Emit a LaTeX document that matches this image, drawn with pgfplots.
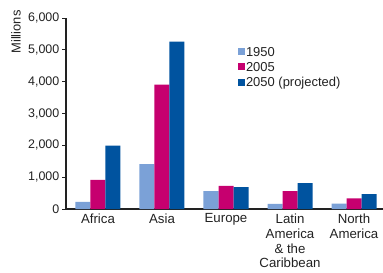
\documentclass[border=0pt]{standalone}
\usepackage{fontspec}
\setmainfont{Liberation Sans}
\usepackage{pgfplots}
\pgfplotsset{compat=1.18}
\definecolor{cA}{HTML}{7BA1D7}
\definecolor{cB}{HTML}{C6006F}
\definecolor{cC}{HTML}{00539F}
\definecolor{txt}{HTML}{222222}
\begin{document}
\begin{tikzpicture}
\begin{axis}[
  scale only axis,
  width=316.8bp, height=190.8bp,
  xmin=-0.5, xmax=4.45,
  ymin=0, ymax=6000,
  clip=false,
  axis lines=left,
  axis line style={-, line width=1.3pt, color=txt},
  ybar=0pt, bar width=15bp,
  xtick={0,1,2,3,4},
  xticklabels={Africa, Asia, Europe, {Latin\\America\\\& the\\Caribbean}, {North\\America}},
  xtick style={draw=none},
  minor xtick={-0.5,0.5,1.5,2.5,3.5},
  minor x tick style={line width=1.2pt, color=txt},
  minor tick length=4bp,
  ytick={0,1000,...,6000},
  ytick style={line width=1pt, color=txt},
  major tick length=3.5bp,
  tick align=outside,
  tick pos=left,
  /pgf/number format/1000 sep={,},
  /pgf/number format/assume math mode=true,
  yticklabel style={font=\fontsize{12.5}{14}\selectfont, color=txt, inner sep=1bp, xshift=-2bp},
  xticklabel style={font=\fontsize{13.3}{15}\selectfont, color=txt, align=center, yshift=2.5bp},
  legend style={at={(rel axis cs:0.533,0.865)}, anchor=north west, draw=none, fill=none,
    font=\fontsize{13}{14}\selectfont, text=txt, row sep=2.5bp,
    nodes={inner sep=1bp}},
  legend cell align=left,
  legend image code/.code={\fill[#1] (0bp,-3bp) rectangle (7bp,4bp);},
]
\addplot[fill=cA, draw=none] coordinates {(0,225) (1,1410) (2,565) (3,165) (4,172)};
\addplot[fill=cB, draw=none] coordinates {(0,915) (1,3910) (2,728) (3,565) (4,332)};
\addplot[fill=cC, draw=none] coordinates {(0,1990) (1,5265) (2,685) (3,815) (4,470)};
\legend{1950, 2005, 2050 (projected)}
\node[rotate=90, font=\fontsize{13}{14}\selectfont, text=txt] at (axis cs:-1.281,5566) {Millions};
\coordinate (bl) at (axis cs:-1.531,-1981);
\coordinate (tr) at (axis cs:4.453,6572);
\end{axis}
\pgfresetboundingbox
\useasboundingbox (bl) rectangle (tr);
\end{tikzpicture}
\end{document}
